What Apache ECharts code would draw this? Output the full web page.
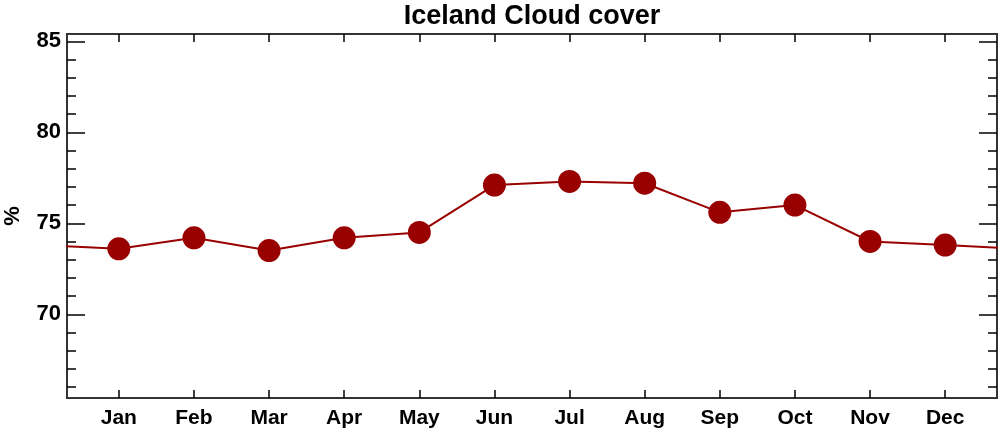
<!DOCTYPE html>
<html><head><meta charset="utf-8">
<script src="https://cdn.jsdelivr.net/npm/echarts@6/dist/echarts.min.js"></script>
<style>html,body{margin:0;padding:0;background:#fff}#c{width:1000px;height:433px}</style>
</head><body><div id="c"></div>
<script>
const months = ['Jan','Feb','Mar','Apr','May','Jun','Jul','Aug','Sep','Oct','Nov','Dec'];
const cloudCover = [73.6, 74.2, 73.5, 74.2, 74.5, 77.1, 77.3, 77.2, 75.6, 76.0, 74.0, 73.8];
const yMajorTicks = [70, 75, 80, 85];
const yMinorTicks = [66,67,68,69,70,71,72,73,74,75,76,77,78,79,80,81,82,83,84,85];
const monthPositions = months.map((m, i) => i + 1);

const X_MIN = 0.31, X_MAX = 12.69, Y_MIN = 65.4, Y_MAX = 85.4;
const font = 'Liberation Sans';
const red = '#990000';

// cyclic wrap: Dec before Jan and Jan after Dec (clipped at plot edges)
const seriesData = [{value: [0, cloudCover[11]], symbolSize: 0}]
  .concat(cloudCover.map((v, i) => [monthPositions[i], v]))
  .concat([{value: [13, cloudCover[0]], symbolSize: 0}]);

const axisLineStyle = {color: '#333', width: 2};
function yAx(pos, ticks, len, labels) {
  return {
    type: 'value', position: pos, min: Y_MIN, max: Y_MAX,
    splitLine: {show: false},
    axisLine: {show: true, lineStyle: axisLineStyle},
    axisTick: {show: true, inside: true, length: len, customValues: ticks, lineStyle: {color: '#000', width: 1.5}},
    axisLabel: labels ? {show: true, customValues: yMajorTicks, fontFamily: font, fontWeight: 'bold', fontSize: 22, color: '#000', margin: 6} : {show: false},
    name: labels ? '%' : '', nameLocation: 'middle', nameGap: 43, nameRotate: 90,
    nameTextStyle: {fontFamily: font, fontWeight: 'bold', fontSize: 22, color: '#000'}
  };
}
function xAx(pos, labels) {
  return {
    type: 'value', position: pos, min: X_MIN, max: X_MAX,
    splitLine: {show: false},
    axisLine: {show: true, lineStyle: axisLineStyle},
    axisTick: {show: true, inside: true, length: 8, customValues: monthPositions, lineStyle: {color: '#000', width: 1.5}},
    axisLabel: labels ? {show: true, customValues: monthPositions, formatter: v => months[Math.round(v) - 1], fontFamily: font, fontWeight: 'bold', fontSize: 21, color: '#000', margin: 10} : {show: false}
  };
}

const chart = echarts.init(document.getElementById('c'), null, {renderer: 'canvas'});
chart.setOption({
  animation: false,
  backgroundColor: '#fff',
  grid: {left: 67, right: 3, top: 34, bottom: 35, containLabel: false, outerBoundsMode: 'none'},
  graphic: [{type: 'text', style: {text: 'Iceland Cloud cover', x: 532, y: 3, textAlign: 'center', fontFamily: font, fontWeight: 'bold', fontSize: 27, fill: '#000'}}],
  xAxis: [xAx('bottom', true), xAx('top', false)],
  yAxis: [yAx('left', yMajorTicks, 18, true), yAx('left', yMinorTicks, 9, false), yAx('right', yMajorTicks, 18, false), yAx('right', yMinorTicks, 9, false)],
  series: [{
    type: 'line', xAxisIndex: 0, yAxisIndex: 0, data: seriesData,
    symbol: 'circle', symbolSize: 23, clip: true,
    lineStyle: {color: red, width: 2}, itemStyle: {color: red}
  }]
});
</script></body></html>
